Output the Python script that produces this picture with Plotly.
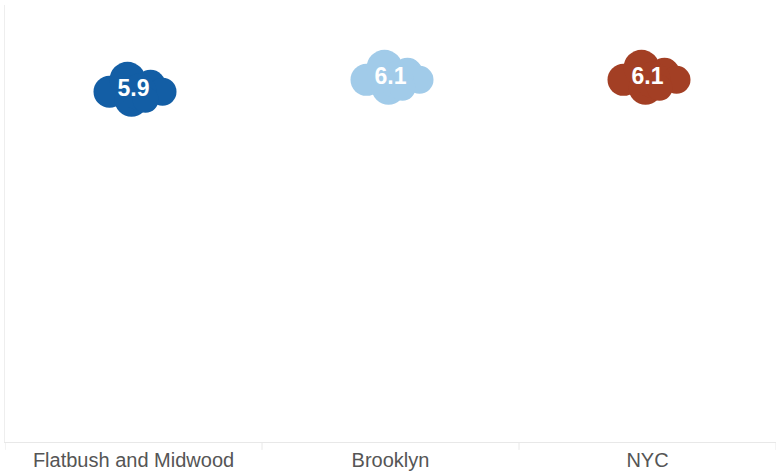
import plotly.graph_objects as go

# Average value per geography
categories = ["Flatbush and Midwood", "Brooklyn", "NYC"]
values = [5.9, 6.1, 6.1]
colors = ["#135ea5", "#a1cbe9", "#a33f24"]

# Cloud outline built from overlapping circles: (dx, dy, r) in pixels, dy upward
CLOUD_PARTS = [
    (-24, -2, 16),
    (-6, 10, 18),
    (17, 5, 15),
    (29, -2, 14),
    (-2, -10, 17),
    (5, -2, 18),
    (12, -10, 13),
]

y_max = max(values) * 1.2

fig = go.Figure()

shapes = []
for i, (cat, val, col) in enumerate(zip(categories, values, colors)):
    for dx, dy, r in CLOUD_PARTS:
        shapes.append(dict(
            type="circle",
            xref="x", yref="y",
            xsizemode="pixel", ysizemode="pixel",
            xanchor=i, yanchor=val,
            x0=dx - r, x1=dx + r,
            y0=dy - r, y1=dy + r,
            fillcolor=col,
            line=dict(width=0),
            layer="below",
        ))

fig.add_trace(go.Scatter(
    x=list(range(len(categories))),
    y=values,
    mode="text",
    text=[f"{v:.1f}" for v in values],
    textposition="middle center",
    textfont=dict(family="Liberation Sans, Arial, sans-serif", size=23, color="white",
                  weight="bold"),
    hoverinfo="skip",
    showlegend=False,
))

fig.update_layout(
    width=777, height=475,
    margin=dict(l=5, r=1, t=5, b=33),
    paper_bgcolor="white",
    plot_bgcolor="white",
    shapes=shapes,
    xaxis=dict(
        range=[-0.5, len(categories) - 0.5],
        tickmode="array",
        tickvals=list(range(len(categories))),
        ticktext=categories,
        showgrid=False,
        zeroline=False,
        showline=True,
        linecolor="#e8e8e8",
        linewidth=1,
        ticks="",
        tickfont=dict(family="Liberation Sans, Arial, sans-serif", size=20, color="#555555"),
        fixedrange=True,
    ),
    yaxis=dict(
        range=[0, y_max],
        showgrid=False,
        zeroline=False,
        showline=True,
        linecolor="#eeeeee",
        linewidth=1,
        showticklabels=False,
        ticks="",
        fixedrange=True,
    ),
)

# Boundary ticks between categories
for b in [i - 0.5 for i in range(len(categories) + 1)]:
    fig.add_shape(
        type="line", xref="x", yref="paper",
        x0=b, x1=b, y0=0, y1=-0.018,
        line=dict(color="#e8e8e8", width=1),
    )

fig.write_html("out.html")
